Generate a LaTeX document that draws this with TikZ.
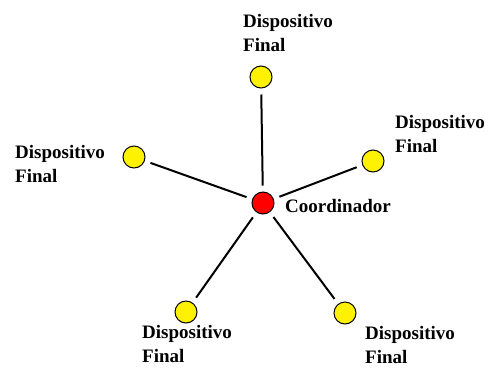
\documentclass[tikz,border=0pt]{standalone}
\usepackage{fontspec}
\setmainfont{Liberation Serif}
\begin{document}
\begin{tikzpicture}[x=1pt,y=-1pt,
  device/.style={circle,draw=black,line width=1pt,fill=yellow,minimum size=22pt,inner sep=0pt},
  coord/.style={circle,draw=black,line width=1pt,fill=red,minimum size=22pt,inner sep=0pt},
  link/.style={line width=2pt,shorten <=6pt,shorten >=6pt},
  lbl/.style={anchor=base west,inner sep=0pt,font=\fontsize{19}{24}\selectfont\bfseries}
]
\useasboundingbox (0,0) rectangle (490,368);

% coordinator and end devices
\node[coord]  (c)  at (263,203) {};
\node[device] (d1) at (261,77) {};
\node[device] (d2) at (134,157) {};
\node[device] (d3) at (373,161) {};
\node[device] (d4) at (186,312) {};
\node[device] (d5) at (345,313) {};

% star links
\draw[link] (c) -- (d1);
\draw[link] (c) -- (d2);
\draw[link] (c) -- (d3);
\draw[link] (c) -- (d4);
\draw[link] (c) -- (d5);

% labels
\node[lbl] (lc) at (285,212) {Coordinador};
\node[lbl] (l1) at (243,27) {\begin{tabular}[t]{@{}l@{}}Dispositivo\\Final\end{tabular}};
\node[lbl] (l2) at (15,158) {\begin{tabular}[t]{@{}l@{}}Dispositivo\\Final\end{tabular}};
\node[lbl] (l3) at (395,128) {\begin{tabular}[t]{@{}l@{}}Dispositivo\\Final\end{tabular}};
\node[lbl] (l4) at (142,338) {\begin{tabular}[t]{@{}l@{}}Dispositivo\\Final\end{tabular}};
\node[lbl] (l5) at (365,339) {\begin{tabular}[t]{@{}l@{}}Dispositivo\\Final\end{tabular}};
\end{tikzpicture}
\end{document}
